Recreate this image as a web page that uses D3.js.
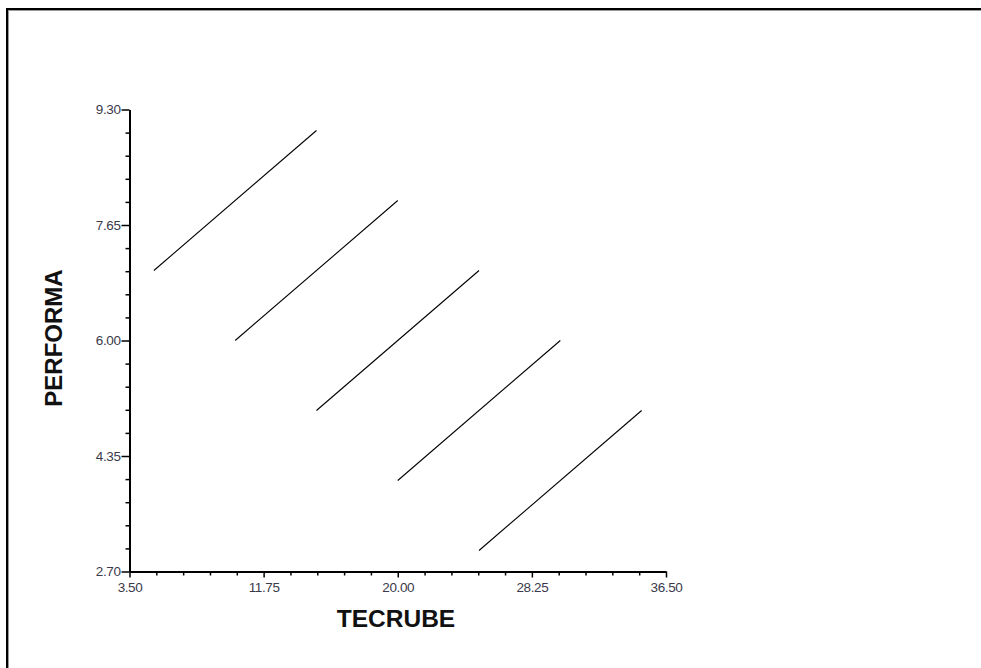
<!DOCTYPE html>
<html>
<head>
<meta charset="utf-8">
<script src="https://cdn.jsdelivr.net/npm/d3@7"></script>
<style>
  html, body { margin: 0; padding: 0; background: #fff; }
  svg { display: block; }
  .tick text { font-family: "Liberation Sans", Arial, sans-serif; font-size: 13.5px; fill: #3a3a4a; letter-spacing: -0.4px; }
</style>
</head>
<body>
<svg id="chart" width="981" height="668"></svg>
<script>
// Data: line segments (group regression lines)
const startX = [5, 10, 15, 20, 25];
const startY = [7, 6, 5, 4, 3];
const endX   = [15, 20, 25, 30, 35];
const endY   = [9, 8, 7, 6, 5];

// Tick labels
const xTicks = [3.5, 11.75, 20.0, 28.25, 36.5];
const yTicks = [2.7, 4.35, 6.0, 7.65, 9.3];
const xLabel = "TECRUBE";
const yLabel = "PERFORMA";

const svg = d3.select("#chart");

// Frame (top and left edges only)
svg.append("line").attr("x1", 6).attr("x2", 981).attr("y1", 9).attr("y2", 9)
  .attr("stroke", "#000").attr("stroke-width", 2);
svg.append("line").attr("x1", 8).attr("x2", 981).attr("y1", 10.5).attr("y2", 10.5)
  .attr("stroke", "#999").attr("stroke-width", 1);
svg.append("line").attr("x1", 7).attr("x2", 7).attr("y1", 8).attr("y2", 668)
  .attr("stroke", "#000").attr("stroke-width", 2);
svg.append("line").attr("x1", 8.5).attr("x2", 8.5).attr("y1", 10).attr("y2", 668)
  .attr("stroke", "#999").attr("stroke-width", 1);

const x = d3.scaleLinear().domain([3.5, 36.5]).range([129.5, 666]);
const y = d3.scaleLinear().domain([2.7, 9.3]).range([571.5, 109.5]);

const xMinor = d3.range(0, 21).map(i => 3.5 + i * 1.65).filter((v, i) => i % 5 !== 0);
const yMinor = d3.range(0, 21).map(i => 2.7 + i * 0.33).filter((v, i) => i % 5 !== 0);

// Minor ticks
svg.append("g").attr("transform", `translate(0,${y(2.7)})`)
  .call(d3.axisBottom(x).tickValues(xMinor).tickSize(4).tickFormat("").tickSizeOuter(0))
  .call(g => g.select(".domain").remove())
  .call(g => g.selectAll("line").attr("stroke", "#000").attr("stroke-width", 1.5));
svg.append("g").attr("transform", `translate(${x(3.5)},0)`)
  .call(d3.axisLeft(y).tickValues(yMinor).tickSize(4).tickFormat("").tickSizeOuter(0))
  .call(g => g.select(".domain").remove())
  .call(g => g.selectAll("line").attr("stroke", "#000").attr("stroke-width", 1.5));

// Major axes
svg.append("g").attr("transform", `translate(0,${y(2.7)})`)
  .call(d3.axisBottom(x).tickValues(xTicks).tickSize(6).tickSizeOuter(0).tickPadding(5).tickFormat(d3.format(".2f")))
  .call(g => g.select(".domain").attr("stroke", "#000").attr("stroke-width", 2))
  .call(g => g.selectAll(".tick line").attr("stroke", "#000").attr("stroke-width", 1.5))
  .call(g => g.selectAll(".tick text").attr("font-size", null).attr("font-family", null));
svg.append("g").attr("transform", `translate(${x(3.5)},0)`)
  .call(d3.axisLeft(y).tickValues(yTicks).tickSize(8).tickSizeOuter(0).tickPadding(1).tickFormat(d3.format(".2f")))
  .call(g => g.select(".domain").attr("stroke", "#000").attr("stroke-width", 2))
  .call(g => g.selectAll(".tick line").attr("stroke", "#000").attr("stroke-width", 1.5))
  .call(g => g.selectAll(".tick text").attr("font-size", null).attr("font-family", null));

// Lines
const segs = startX.map((d, i) => ({ x1: d, y1: startY[i], x2: endX[i], y2: endY[i] }));
svg.append("g").selectAll("line").data(segs).join("line")
  .attr("x1", d => x(d.x1)).attr("y1", d => y(d.y1))
  .attr("x2", d => x(d.x2)).attr("y2", d => y(d.y2))
  .attr("stroke", "#000").attr("stroke-width", 1.1);

// Axis titles
svg.append("text").attr("x", 396).attr("y", 627).attr("text-anchor", "middle")
  .attr("font-family", "Liberation Sans, Arial, sans-serif").attr("font-weight", "bold")
  .attr("font-size", 24.5).attr("fill", "#111").text(xLabel);
svg.append("text").attr("transform", "translate(62,338) rotate(-90)").attr("text-anchor", "middle")
  .attr("font-family", "Liberation Sans, Arial, sans-serif").attr("font-weight", "bold")
  .attr("font-size", 24).attr("fill", "#111").text(yLabel);
</script>
</body>
</html>
